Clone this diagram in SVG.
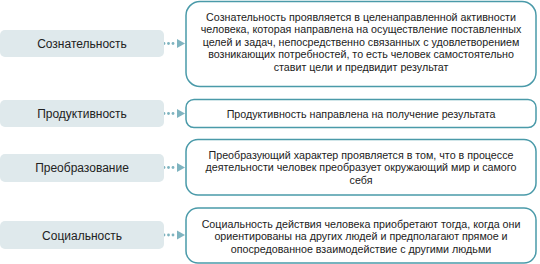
<svg xmlns="http://www.w3.org/2000/svg" width="540" height="264" viewBox="0 0 540 264">
<defs>
<style>
.lbox{fill:#dfe9ec;stroke:none}
.rbox{fill:#ffffff;stroke:#4a9aa9;stroke-width:1.5}
.lt{font-family:"Liberation Sans",Arial,sans-serif;font-size:12px;fill:#222;text-anchor:middle}
.rt{font-family:"Liberation Sans",Arial,sans-serif;font-size:10.7px;fill:#222;text-anchor:middle}
.dot{fill:#7fb4c0}
.head{fill:#7fb4c0}
</style>
</defs>
<rect width="540" height="264" fill="#ffffff"/>
<g id="connectors">
<circle class="dot" cx="164" cy="43.5" r="1.4"/><circle class="dot" cx="168.5" cy="43.5" r="1.4"/><circle class="dot" cx="173" cy="43.5" r="1.4"/>
<path class="head" d="M177 39 L185 43.5 L177 48 Z"/>
<circle class="dot" cx="164" cy="113.5" r="1.4"/><circle class="dot" cx="168.5" cy="113.5" r="1.4"/><circle class="dot" cx="173" cy="113.5" r="1.4"/>
<path class="head" d="M177 109 L185 113.5 L177 118 Z"/>
<circle class="dot" cx="164" cy="167.5" r="1.4"/><circle class="dot" cx="168.5" cy="167.5" r="1.4"/><circle class="dot" cx="173" cy="167.5" r="1.4"/>
<path class="head" d="M177 163 L185 167.5 L177 172 Z"/>
<circle class="dot" cx="164" cy="235" r="1.4"/><circle class="dot" cx="168.5" cy="235" r="1.4"/><circle class="dot" cx="173" cy="235" r="1.4"/>
<path class="head" d="M177 230.5 L185 235 L177 239.5 Z"/>
</g>
<g id="n1">
<rect class="lbox" x="0" y="30" width="164" height="27" rx="5"/>
<text class="lt" x="82" y="48">Сознательность</text>
</g>
<g id="n2">
<rect class="lbox" x="0" y="100" width="164" height="27" rx="5"/>
<text class="lt" x="82" y="118">Продуктивность</text>
</g>
<g id="n3">
<rect class="lbox" x="0" y="154" width="164" height="28" rx="5"/>
<text class="lt" x="82" y="172">Преобразование</text>
</g>
<g id="n4">
<rect class="lbox" x="0" y="221" width="164" height="28" rx="5"/>
<text class="lt" x="82" y="239.5">Социальность</text>
</g>
<g id="d1">
<rect class="rbox" x="186" y="1.5" width="350" height="85" rx="14"/>
<text class="rt" x="361" y="20.5">Сознательность проявляется в целенаправленной активности</text>
<text class="rt" x="361" y="33">человека, которая направлена на осуществление поставленных</text>
<text class="rt" x="361" y="45.5">целей и задач, непосредственно связанных с удовлетворением</text>
<text class="rt" x="361" y="58">возникающих потребностей, то есть человек самостоятельно</text>
<text class="rt" x="361" y="70.5">ставит цели и предвидит результат</text>
</g>
<g id="d2">
<rect class="rbox" x="186" y="99.5" width="350" height="28" rx="8"/>
<text class="rt" x="361" y="117.5">Продуктивность направлена на получение результата</text>
</g>
<g id="d3">
<rect class="rbox" x="186" y="139.5" width="350" height="55.5" rx="12"/>
<text class="rt" x="361" y="158.5">Преобразующий характер проявляется в том, что в процессе</text>
<text class="rt" x="361" y="171">деятельности человек преобразует окружающий мир и самого</text>
<text class="rt" x="361" y="183.5">себя</text>
</g>
<g id="d4">
<rect class="rbox" x="186" y="208" width="350" height="55" rx="12"/>
<text class="rt" x="361" y="227.5">Социальность действия человека приобретают тогда, когда они</text>
<text class="rt" x="361" y="240">ориентированы на других людей и предполагают прямое и</text>
<text class="rt" x="361" y="252.5">опосредованное взаимодействие с другими людьми</text>
</g>
</svg>
